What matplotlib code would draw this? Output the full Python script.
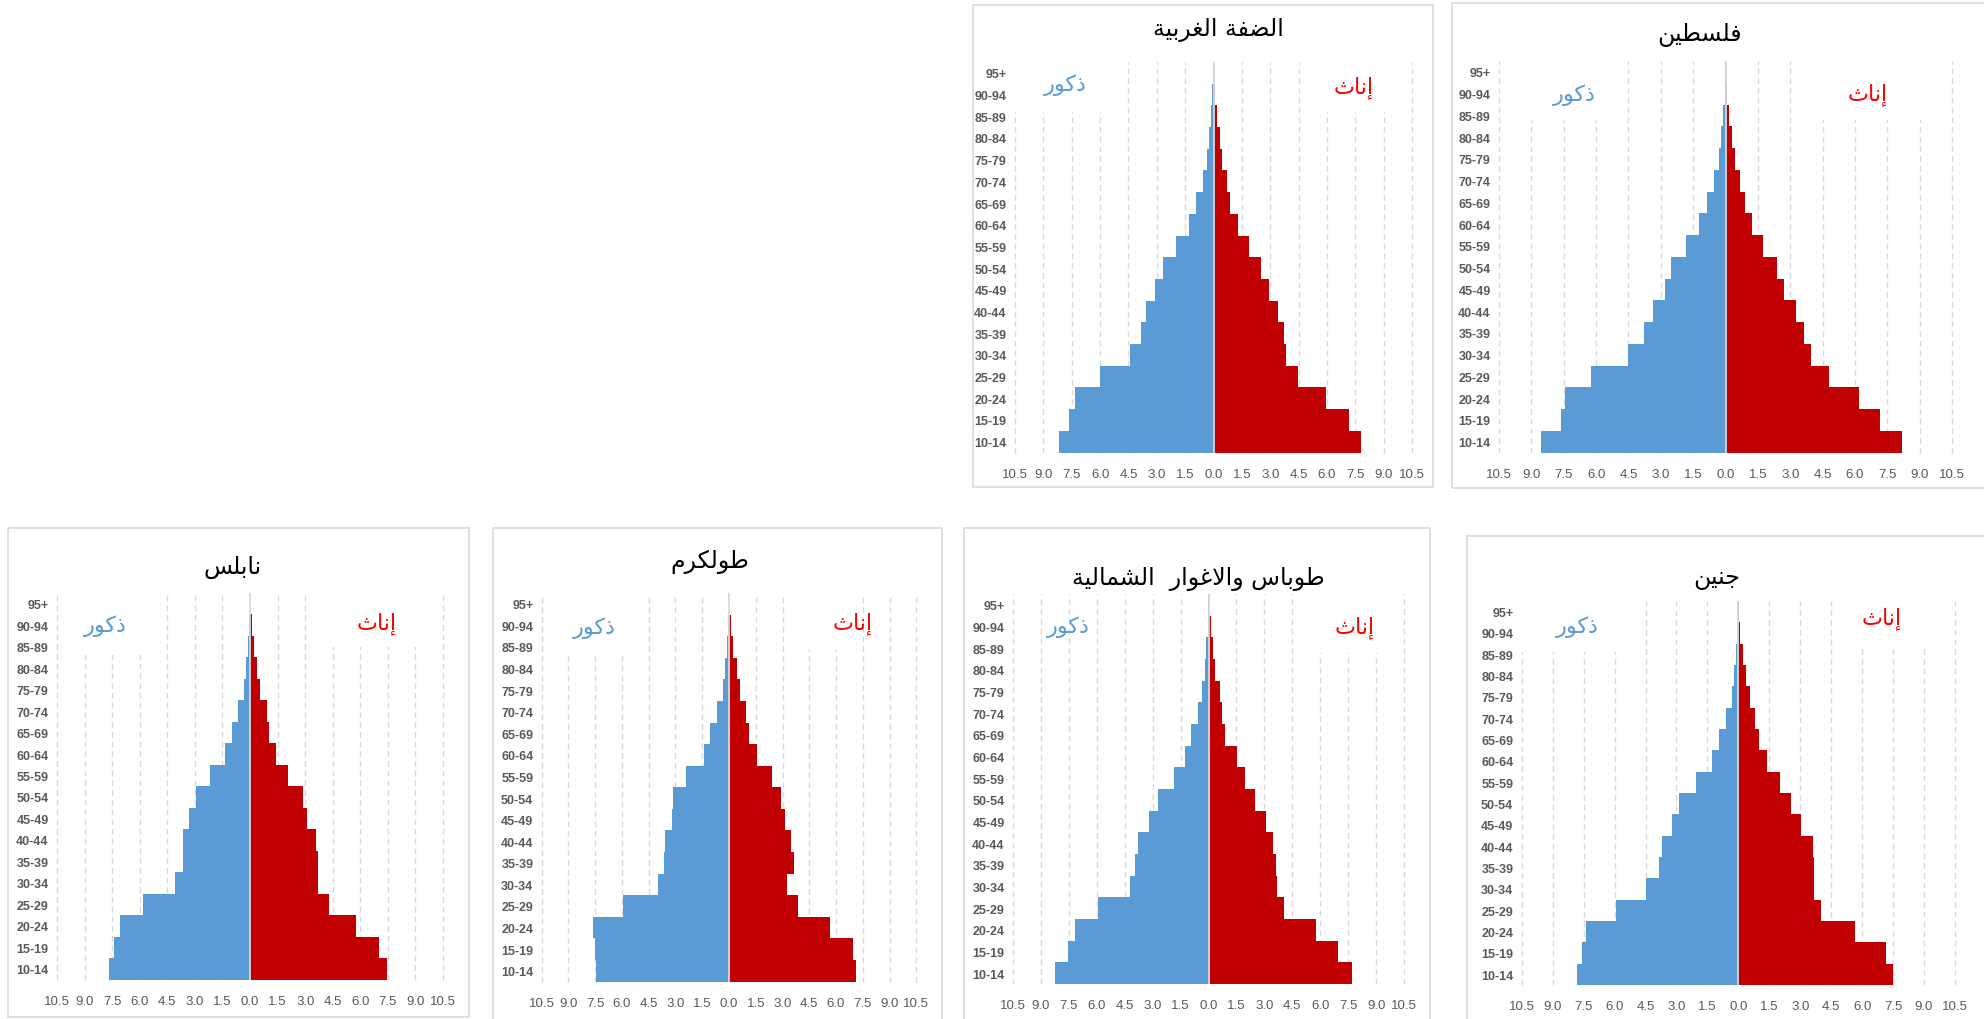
import numpy as np
import matplotlib.pyplot as plt
from matplotlib.patches import Rectangle

W, H = 1984, 1020

age_groups = ['10-14', '15-19', '20-24', '25-29', '30-34', '35-39', '40-44', '45-49', '50-54',
              '55-59', '60-64', '65-69', '70-74', '75-79', '80-84', '85-89', '90-94', '95+']
ticks = [-10.5, -9.0, -7.5, -6.0, -4.5, -3.0, -1.5, 0.0, 1.5, 3.0, 4.5, 6.0, 7.5, 9.0, 10.5]

# percentages per age group, youngest first
wb_male = [8.15, 7.62, 7.30, 6.03, 4.44, 3.85, 3.57, 3.11, 2.67, 2.00, 1.29, 0.92, 0.58, 0.34, 0.23, 0.12, 0.07, 0.02]
wb_female = [7.80, 7.18, 5.94, 4.45, 3.82, 3.71, 3.43, 2.93, 2.51, 1.89, 1.31, 0.88, 0.72, 0.46, 0.32, 0.18, 0.07, 0.02]
pal_male = [8.55, 7.61, 7.45, 6.23, 4.50, 3.77, 3.36, 2.80, 2.52, 1.84, 1.21, 0.88, 0.53, 0.29, 0.20, 0.11, 0.04, 0.01]
pal_female = [8.20, 7.14, 6.19, 4.79, 3.97, 3.66, 3.28, 2.71, 2.38, 1.76, 1.25, 0.90, 0.65, 0.42, 0.31, 0.15, 0.06, 0.02]
nab_male = [7.65, 7.42, 7.07, 5.80, 4.10, 3.66, 3.63, 3.30, 2.92, 2.19, 1.34, 1.00, 0.63, 0.34, 0.24, 0.11, 0.04, 0.01]
nab_female = [7.44, 7.02, 5.75, 4.30, 3.70, 3.68, 3.61, 3.12, 2.87, 2.09, 1.40, 1.02, 0.91, 0.56, 0.36, 0.22, 0.09, 0.02]
tul_male = [7.47, 7.51, 7.60, 5.96, 3.98, 3.64, 3.61, 3.21, 3.12, 2.41, 1.42, 1.05, 0.65, 0.34, 0.22, 0.11, 0.04, 0.01]
tul_female = [7.10, 6.95, 5.68, 3.87, 3.25, 3.64, 3.49, 3.16, 2.91, 2.39, 1.57, 1.12, 0.95, 0.60, 0.43, 0.22, 0.09, 0.02]
tub_male = [8.23, 7.55, 7.18, 5.96, 4.24, 3.94, 3.80, 3.22, 2.70, 1.86, 1.27, 0.95, 0.55, 0.36, 0.21, 0.14, 0.05, 0.02]
tub_female = [7.73, 6.95, 5.80, 4.08, 3.67, 3.65, 3.44, 3.10, 2.52, 1.95, 1.52, 0.86, 0.75, 0.61, 0.36, 0.25, 0.11, 0.02]
jen_male = [7.82, 7.59, 7.37, 5.94, 4.46, 3.86, 3.72, 3.20, 2.88, 2.05, 1.26, 0.92, 0.60, 0.31, 0.23, 0.10, 0.03, 0.01]
jen_female = [7.50, 7.16, 5.64, 3.99, 3.67, 3.68, 3.63, 3.02, 2.57, 2.02, 1.39, 0.99, 0.79, 0.57, 0.37, 0.21, 0.08, 0.02]

male_label = 'ذكور'
female_label = 'إناث'

# Arabic presentation forms: (isolated, final[, initial, medial])
FORMS = {
    'ا': (0xFE8D, 0xFE8E), 'إ': (0xFE87, 0xFE88), 'ة': (0xFE93, 0xFE94),
    'ذ': (0xFEAB, 0xFEAC), 'ر': (0xFEAD, 0xFEAE), 'و': (0xFEED, 0xFEEE),
    'لا': (0xFEFB, 0xFEFC),
    'ب': (0xFE8F, 0xFE90, 0xFE91, 0xFE92), 'ث': (0xFE99, 0xFE9A, 0xFE9B, 0xFE9C),
    'ج': (0xFE9D, 0xFE9E, 0xFE9F, 0xFEA0), 'س': (0xFEB1, 0xFEB2, 0xFEB3, 0xFEB4),
    'ش': (0xFEB5, 0xFEB6, 0xFEB7, 0xFEB8), 'ض': (0xFEBD, 0xFEBE, 0xFEBF, 0xFEC0),
    'ط': (0xFEC1, 0xFEC2, 0xFEC3, 0xFEC4), 'غ': (0xFECD, 0xFECE, 0xFECF, 0xFED0),
    'ف': (0xFED1, 0xFED2, 0xFED3, 0xFED4), 'ك': (0xFED9, 0xFEDA, 0xFEDB, 0xFEDC),
    'ل': (0xFEDD, 0xFEDE, 0xFEDF, 0xFEE0), 'م': (0xFEE1, 0xFEE2, 0xFEE3, 0xFEE4),
    'ن': (0xFEE5, 0xFEE6, 0xFEE7, 0xFEE8), 'ي': (0xFEF1, 0xFEF2, 0xFEF3, 0xFEF4),
}


def shape(text):
    # join letters and reverse, since matplotlib lays text out left to right
    tokens, i = [], 0
    while i < len(text):
        if text[i] == 'ل' and text[i + 1:i + 2] == 'ا':
            tokens.append('لا')
            i += 2
        else:
            tokens.append(text[i])
            i += 1
    out = []
    for k, t in enumerate(tokens):
        f = FORMS.get(t)
        if f is None:
            out.append(t)
            continue
        prev = FORMS.get(tokens[k - 1]) if k > 0 else None
        nxt = FORMS.get(tokens[k + 1]) if k + 1 < len(tokens) else None
        jp = prev is not None and len(prev) == 4
        jn = nxt is not None and len(f) == 4
        if jp and jn:
            c = f[3]
        elif jp:
            c = f[1]
        elif jn:
            c = f[2]
        else:
            c = f[0]
        out.append(chr(c))
    return ''.join(reversed(out))


# pixel layout of each panel: frame, plot box, title, labels, white label boxes
panels = [
    dict(title='الضفة الغربية', male=wb_male, female=wb_female,
         frame=(973, 6, 1433, 488), box=(1015, 63, 1412, 453.5), tpos=(1218, 30),
         mpos=(1065, 85), fpos=(1354, 88), covers=[(-11, -5.2, 2.3), (5.2, 9.8, 2.3)]),
    dict(title='فلسطين', male=pal_male, female=pal_female,
         frame=(1452, 4, 1995, 489), box=(1499, 62, 1952, 453.5), tpos=(1700, 35),
         mpos=(1574, 95), fpos=(1868, 95), covers=[(-9.8, -5.2, 2.7), (3.8, 9.8, 2.7)]),
    dict(title='نابلس', male=nab_male, female=nab_female,
         frame=(8, 529, 469, 1018), box=(57, 594, 443, 980.5), tpos=(233, 567),
         mpos=(105, 626), fpos=(377, 624), covers=[(-9.8, -5.2, 2.9), (4.0, 9.8, 2.5)]),
    dict(title='طولكرم', male=tul_male, female=tul_female,
         frame=(493, 529, 942, 1024), box=(541.7, 594, 916.3, 982.5), tpos=(710, 562),
         mpos=(594, 628), fpos=(853, 624), covers=[(-9.8, -5.2, 2.9), (3.8, 6.8, 2.6)]),
    dict(title='طوباس والاغوار  الشمالية', male=tub_male, female=tub_female,
         frame=(964, 529, 1430, 1024), box=(1013, 595, 1404, 985), tpos=(1198, 579),
         mpos=(1068, 627), fpos=(1355, 628), covers=[(5.0, 9.8, 2.7)]),
    dict(title='جنين', male=jen_male, female=jen_female,
         frame=(1467, 537, 1995, 1024), box=(1521.7, 602, 1955, 986), tpos=(1717, 578),
         mpos=(1577, 627), fpos=(1882, 619), covers=[(-11, -5.2, 2.4), (5.0, 9.8, 2.1)]),
]

fig = plt.figure(figsize=(W / 100, H / 100), dpi=100)
fig.patch.set_facecolor('white')

y = np.arange(len(age_groups))
for p in panels:
    fx0, fy0, fx1, fy1 = p['frame']
    fig.add_artist(Rectangle((fx0 / W, 1 - fy1 / H), (fx1 - fx0) / W, (fy1 - fy0) / H,
                             transform=fig.transFigure, fill=False, edgecolor='#D9D9D9', linewidth=1.2))
    x0, y0, x1, y1 = p['box']
    ax = fig.add_axes([x0 / W, 1 - y1 / H, (x1 - x0) / W, (y1 - y0) / H])
    ax.set_xlim(-10.5, 10.5)
    ax.set_ylim(-0.5, len(age_groups) - 0.5)

    for t in ticks:
        if t != 0:
            ax.axvline(t, color='#D9D9D9', linestyle=(0, (4, 3)), linewidth=1.0, zorder=0.5, clip_on=False)
    top = len(age_groups) - 0.5
    for cx0, cx1, depth in p['covers']:
        ax.add_patch(Rectangle((cx0, top - depth), cx1 - cx0, depth + 0.2, facecolor='white',
                               edgecolor='none', zorder=1, clip_on=False))

    ax.barh(y, -np.array(p['male']), height=1.0, color='#5B9BD5', edgecolor='none', zorder=2)
    ax.barh(y, p['female'], height=1.0, color='#C00000', edgecolor='none', zorder=2)
    ax.axvline(0, color='#D9D9D9', linewidth=1.3, zorder=3)

    ax.set_xticks(ticks)
    ax.set_xticklabels(['%.1f' % abs(t) for t in ticks], fontsize=9.5, color='#595959',
                       family='Liberation Sans')
    ax.set_yticks(y)
    ax.set_yticklabels(age_groups, fontsize=9, color='#595959', fontweight='bold',
                       family='Liberation Sans')
    ax.tick_params(axis='x', length=0, pad=11)
    ax.tick_params(axis='y', length=0, pad=6)
    for s in ax.spines.values():
        s.set_visible(False)
    ax.set_facecolor('none')

    tx, ty = p['tpos']
    fig.text(tx / W, 1 - ty / H, shape(p['title']), ha='center', va='center', fontsize=17,
             color='black', family='DejaVu Sans')
    mx, my = p['mpos']
    fig.text(mx / W, 1 - my / H, shape(male_label), ha='center', va='center', fontsize=16,
             color='#5B9BD5', family='DejaVu Sans')
    ffx, ffy = p['fpos']
    fig.text(ffx / W, 1 - ffy / H, shape(female_label), ha='center', va='center', fontsize=16,
             color='#FF0000', family='DejaVu Sans')

fig.savefig('out.png', dpi=100, facecolor='white')
